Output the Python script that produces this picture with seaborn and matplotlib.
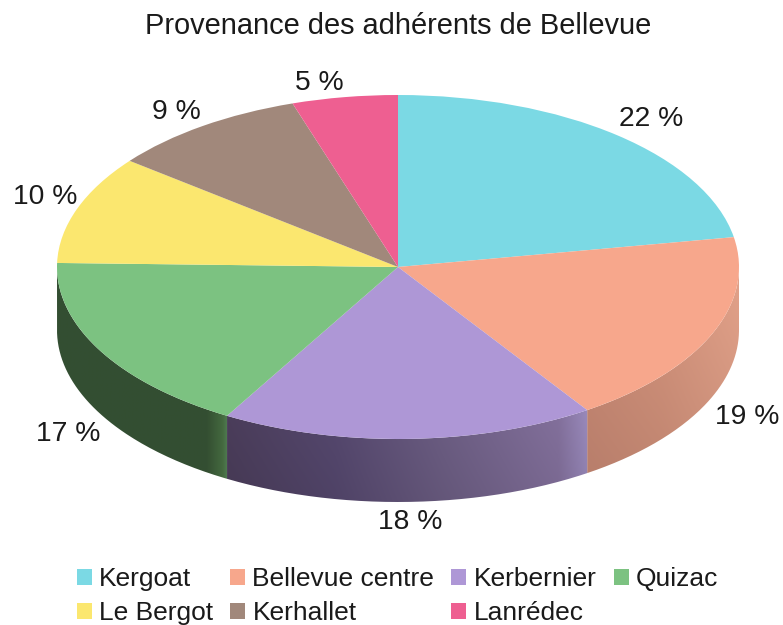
import numpy as np
import matplotlib
matplotlib.use("Agg")
import matplotlib.pyplot as plt
from matplotlib.colors import LinearSegmentedColormap
from matplotlib.patches import Patch, PathPatch
from matplotlib.path import Path
import seaborn as sns

# ---- data ----
quartiers = ["Kergoat", "Bellevue centre", "Kerbernier", "Quizac", "Le Bergot", "Kerhallet", "Lanrédec"]
parts = [22.2, 18.4, 17.7, 17.0, 10.2, 9.4, 5.0]
etiquettes = ["22 %", "19 %", "18 %", "17 %", "10 %", "9 %", "5 %"]
couleurs = ["#7BD9E4", "#F7A78C", "#AE97D6", "#7CC281", "#FBE76F", "#A1887B", "#EE5F91"]
titre = "Provenance des adhérents de Bellevue"

# ---- layout (pixels of the 783x625 picture) ----
W, H = 783, 625
CX, CY, RX, RY, DEPTH = 398, 267, 341, 172, 63
LABEL_PX = [(651, 119), (747, 417), (410, 522), (68, 434), (45, 197), (176, 112), (319, 83)]
SIDE_STOPS = {
    1: ([0, 0.5, 1], ["#C28571", "#CB8D77", "#D89A83"], 0.10),
    2: ([0, 0.3, 0.6, 0.92, 1], ["#483B57", "#52456A", "#685A7E", "#7E6C96", "#9384B4"], 0.08),
    3: ([0, 0.88, 0.97, 1], ["#334E32", "#344F32", "#44693F", "#507C52"], 0.0),
}

sns.set_theme(style="white")
plt.rcParams["font.family"] = ["Liberation Sans", "DejaVu Sans"]
palette = sns.color_palette(couleurs)

fig = plt.figure(figsize=(W / 100, H / 100), dpi=100)
ax = fig.add_axes([0, 0, 1, 1])

wedges, _ = ax.pie(parts, colors=palette, startangle=90, counterclock=False,
                   radius=1, center=(0, 0), wedgeprops=dict(linewidth=0, zorder=3))
ax.set_aspect("auto")
xmin, xmax = (0 - CX) / RX, (W - CX) / RX
ymin, ymax = (CY - H) / RY, (CY - 0) / RY
ax.set_xlim(xmin, xmax)
ax.set_ylim(ymin, ymax)
ax.axis("off")

depth = DEPTH / RY
edges = 90 - np.cumsum([0] + parts) / sum(parts) * 360
for i, (pos, stops, vshade) in SIDE_STOPS.items():
    a1 = min(edges[i], 0.0)
    a2 = max(edges[i + 1], -180.0)
    t = np.radians(np.linspace(a1, a2, 120))
    xs, ys = np.cos(t), np.sin(t)
    verts = np.r_[np.c_[xs, ys], np.c_[xs[::-1], ys[::-1] - depth], [[xs[0], ys[0]]]]
    patch = PathPatch(Path(verts), transform=ax.transData, fc="none", ec="none")
    ax.add_patch(patch)
    cmap = LinearSegmentedColormap.from_list(f"side{i}", list(zip(pos, stops)))
    rgba = cmap(np.linspace(0, 1, 256))[None, :, :] * np.ones((128, 1, 1))
    shade = np.linspace(1 + vshade / 2, 1 - vshade / 2, 128)[:, None, None]
    rgba[..., :3] = np.clip(rgba[..., :3] * shade, 0, 1)
    im = ax.imshow(rgba, aspect="auto", zorder=2, interpolation="bilinear",
                   extent=[xs.min(), xs.max(), ys.min() - depth, ys.max()])
    im.set_clip_path(patch)
ax.set_xlim(xmin, xmax)
ax.set_ylim(ymin, ymax)

for lab, (px, py) in zip(etiquettes, LABEL_PX):
    ax.text((px - CX) / RX, (CY - py) / RY, lab, ha="center", va="center",
            fontsize=20.3, color="#1a1a1a", zorder=5)

fig.text(398 / W, 1 - 26 / H, titre, ha="center", va="center", fontsize=20.9, color="#1a1a1a")

order = [0, 4, 1, 5, 2, 6, 3]
handles = [Patch(fc=palette[k], ec="none", label=quartiers[k]) for k in order]
fig.legend(handles=handles, ncols=4, loc="center", bbox_to_anchor=(397.5 / W, 1 - 596 / H),
           frameon=False, fontsize=19, handlelength=0.57, handleheight=0.57,
           handletextpad=0.27, columnspacing=0.65, labelspacing=0.38, labelcolor="#1a1a1a",
           borderpad=0, borderaxespad=0)

fig.savefig("out.png", dpi=100)
